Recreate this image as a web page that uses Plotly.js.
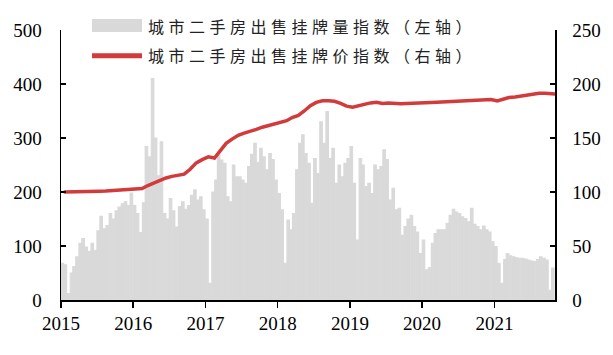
<!DOCTYPE html>
<html>
<head>
<meta charset="utf-8">
<script src="https://cdn.plot.ly/plotly-3.0.1.min.js"></script>
<style>
  html, body { margin: 0; padding: 0; background: #fff; }
  #chart { width: 613px; height: 355px; }
  .annotation-text { letter-spacing: 4.5px; }
  .xtick text, .ytick text, .y2tick text { font-family: "Liberation Serif", "Times New Roman", serif !important; }
</style>
</head>
<body>
<div id="chart"></div>
<script>
// Listing volume index (left axis), semi-monthly readings, one array per year
const vol2015 = [68, 65, 12, 50, 62, 80, 105, 114, 98, 90, 105, 92, 128, 155, 132, 138, 160, 150, 165, 172, 178, 182, 175, 198];
const vol2016 = [175, 160, 125, 180, 284, 265, 410, 300, 230, 293, 160, 150, 188, 165, 135, 173, 182, 168, 175, 194, 204, 185, 191, 167];
const vol2017 = [150, 31, 200, 222, 268, 259, 253, 191, 182, 250, 228, 228, 222, 216, 247, 270, 290, 255, 281, 265, 241, 271, 260, 222];
const vol2018 = [197, 167, 68, 148, 130, 160, 241, 290, 306, 271, 253, 179, 262, 234, 330, 290, 349, 262, 281, 216, 250, 228, 253, 262];
const vol2019 = [284, 216, 111, 262, 250, 210, 216, 197, 250, 241, 247, 278, 260, 185, 207, 167, 170, 120, 136, 150, 157, 136, 126, 86];
const vol2020 = [111, 56, 60, 105, 123, 130, 130, 130, 142, 157, 168, 163, 160, 154, 151, 145, 170, 140, 136, 130, 137, 130, 126, 108];
const vol2021 = [99, 68, 31, 75, 86, 82, 80, 78, 77, 77, 76, 74, 72, 71, 75, 80, 77, 74, 18, 59];
const volumeIndex = [].concat(vol2015, vol2016, vol2017, vol2018, vol2019, vol2020, vol2021);

// Listing price index (right axis), monthly readings, one array per year
const price2015 = [100, 100, 100.3, 100.2, 100.5, 100.6, 100.8, 101, 101.3, 101.6, 102, 102.5];
const price2016 = [103.2, 103.3, 106, 108.5, 111, 113, 114.5, 115.5, 116.5, 121, 127, 130];
const price2017 = [132.5, 131.5, 138, 145, 149, 152.5, 154.5, 156, 158, 160, 161.5, 163];
const price2018 = [164.5, 166, 169, 171, 175, 180, 183, 184.5, 184.5, 184, 182, 179.5];
const price2019 = [178.5, 180, 181.5, 182.5, 183, 182, 182.5, 182, 181.8, 182, 182, 182.3];
const price2020 = [182.5, 182.8, 183, 183.3, 183.5, 184, 184.3, 184.5, 184.8, 185, 185.3, 185.6];
const price2021 = [184.3, 186, 187.5, 188, 189, 190, 191, 191.5, 191.5, 191.3, 190.5];
const priceIndex = [].concat(price2015, price2016, price2017, price2018, price2019, price2020, price2021);

const seriesNames = ['城市二手房出售挂牌量指数（左轴）', '城市二手房出售挂牌价指数（右轴）'];
const yearTicks = ['2015', '2016', '2017', '2018', '2019', '2020', '2021'];
const leftTicks = [0, 100, 200, 300, 400, 500];
const rightTicks = [0, 50, 100, 150, 200, 250];

function pad(n) { return (n < 10 ? '0' : '') + n; }
const volDates = volumeIndex.map((_, i) => {
  const y = 2015 + Math.floor(i / 24);
  const m = Math.floor((i % 24) / 2) + 1;
  const d = (i % 2) ? 23 : 8;
  return y + '-' + pad(m) + '-' + pad(d);
});
const priceDates = priceIndex.map((_, i) => {
  const y = 2015 + Math.floor(i / 12);
  const m = (i % 12) + 1;
  return y + '-' + pad(m) + '-15';
});

const tickFont = { family: 'Liberation Serif', size: 19, color: '#000' };

const traces = [
  {
    type: 'bar', x: volDates, y: volumeIndex, name: seriesNames[0],
    marker: { color: '#d9d9d9', line: { width: 1.1, color: '#d9d9d9' } }, yaxis: 'y', showlegend: false
  },
  {
    type: 'scatter', mode: 'lines', x: priceDates, y: priceIndex, name: seriesNames[1],
    line: { color: '#d13b3b', width: 3.5 }, yaxis: 'y2', showlegend: false
  }
];

const layout = {
  width: 613, height: 355,
  margin: { l: 61, r: 58, t: 30, b: 55 },
  paper_bgcolor: '#fff', plot_bgcolor: '#fff',
  bargap: 0,
  showlegend: false,
  xaxis: {
    type: 'date', range: ['2015-01-01', '2021-11-03'],
    tickvals: yearTicks.map(y => y + '-01-01'), ticktext: yearTicks,
    ticks: 'outside', ticklen: 6, tickwidth: 1.5, tickcolor: '#000',
    showline: true, linecolor: '#000', linewidth: 1.5, showgrid: false, zeroline: false,
    tickfont: tickFont, ticklabelstandoff: 0
  },
  yaxis: {
    range: [0, 500], tickvals: leftTicks,
    ticks: 'inside', ticklen: 5, tickwidth: 1.5, tickcolor: '#000',
    showline: true, linecolor: '#000', linewidth: 1.5, showgrid: false, zeroline: false,
    tickfont: tickFont, ticklabelstandoff: 14
  },
  yaxis2: {
    range: [0, 250], tickvals: rightTicks, overlaying: 'y', side: 'right',
    ticks: 'inside', ticklen: 5, tickwidth: 1.5, tickcolor: '#000',
    showline: true, linecolor: '#000', linewidth: 1.5, showgrid: false, zeroline: false,
    tickfont: tickFont, ticklabelstandoff: 12
  },
  shapes: [
    { type: 'rect', xref: 'paper', yref: 'paper', x0: 0.0628, x1: 0.164, y0: 0.9926, y1: 1.0407,
      fillcolor: '#d9d9d9', line: { width: 0 } },
    { type: 'line', xref: 'paper', yref: 'paper', x0: 0.0628, x1: 0.164, y0: 0.905, y1: 0.905,
      line: { color: '#d13b3b', width: 5 } }
  ],
  annotations: [
    { xref: 'paper', yref: 'paper', x: 0.172, y: 1.0138, xanchor: 'left', yanchor: 'middle', align: 'left',
      text: seriesNames[0], showarrow: false,
      font: { family: '"Noto Sans CJK SC", sans-serif', size: 16, color: '#222' } },
    { xref: 'paper', yref: 'paper', x: 0.172, y: 0.907, xanchor: 'left', yanchor: 'middle', align: 'left',
      text: seriesNames[1], showarrow: false,
      font: { family: '"Noto Sans CJK SC", sans-serif', size: 16, color: '#222' } }
  ]
};

Plotly.newPlot('chart', traces, layout, { staticPlot: true, displayModeBar: false });
</script>
</body>
</html>
